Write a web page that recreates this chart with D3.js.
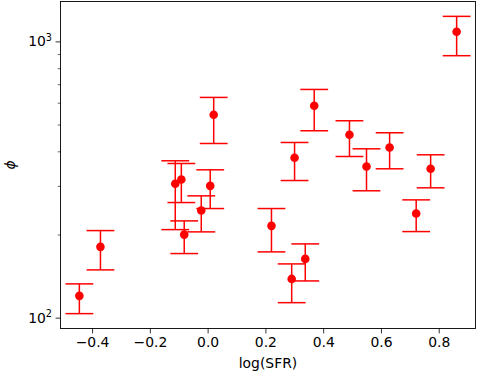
<!DOCTYPE html>
<html><head><meta charset="utf-8">
<script src="https://cdn.jsdelivr.net/npm/d3@7"></script>
<style>body{margin:0;background:#fff}svg{display:block;font-family:"DejaVu Sans",sans-serif}</style>
</head><body><svg id="c" width="478" height="371"></svg>
<script>
const logSFR = [-0.444,-0.371,-0.112,-0.091,-0.081,-0.022,0.009,0.021,0.221,0.291,0.338,0.301,0.369,0.491,0.550,0.630,0.722,0.772,0.862];
const phi    = [119.9,180.4,305.1,316.2,199.8,244.2,300.0,542.6,214.9,138.1,163.2,379.0,584.8,459.2,352.5,413.0,238.2,345.8,1084];
const phiLow = [103.4,148.9,208.3,261.0,170.6,204.4,248.3,427.0,173.0,113.3,135.8,313.6,474.8,383.1,287.9,345.8,204.9,295.1,887.7];
const phiHigh= [132.5,206.6,369.7,361.4,224.0,276.0,342.9,626.9,248.3,156.5,184.9,430.6,670.0,516.1,408.5,466.9,266.9,388.6,1232];
const xTicks = [-0.4,-0.2,0.0,0.2,0.4,0.6,0.8];
const yMajor = [100,1000];
const yMinor = [200,300,400,500,600,700,800,900];

const svg = d3.select("#c");
const L=60.5, R=475.5, T=1.5, B=328.5;
const xmin=d3.min(logSFR), xmax=d3.max(logSFR), xr=xmax-xmin;
const x = d3.scaleLinear().domain([xmin-0.05*xr, xmax+0.05*xr]).range([L,R]);
const lmin=Math.log10(d3.min(phiLow)), lmax=Math.log10(d3.max(phiHigh)), lr=lmax-lmin;
const y = d3.scaleLog().domain([Math.pow(10,lmin-0.05*lr), Math.pow(10,lmax+0.05*lr)]).range([B,T]);

const fmt = d=> (d<0?"\u2212":"")+Math.abs(d).toFixed(1);
const gx = svg.append("g").attr("transform",`translate(0,${B})`)
  .call(d3.axisBottom(x).tickValues(xTicks).tickFormat(fmt).tickSizeOuter(0).tickSize(4.9).tickPadding(3.5));
gx.select(".domain").remove();
gx.selectAll("text").attr("font-size",13.9).attr("font-family","DejaVu Sans").attr("fill","#000");
gx.selectAll("line").attr("stroke","#000").attr("stroke-width",0.8);

const gy = svg.append("g").attr("transform",`translate(${L},0)`)
  .call(d3.axisLeft(y).tickValues(yMajor).tickFormat("").tickSizeOuter(0).tickSize(4.9));
gy.select(".domain").remove();
gy.selectAll("line").attr("stroke","#000").attr("stroke-width",0.8);
const gym = svg.append("g").attr("transform",`translate(${L},0)`)
  .call(d3.axisLeft(y).tickValues(yMinor).tickFormat("").tickSizeOuter(0).tickSize(2.8));
gym.select(".domain").remove();
gym.selectAll("line").attr("stroke","#000").attr("stroke-width",0.6);

yMajor.forEach(v=>{
  const t = svg.append("text").attr("x",L-8.5).attr("y",y(v)+5).attr("text-anchor","end")
    .attr("font-size",13.9).attr("fill","#000");
  t.append("tspan").text("10");
  t.append("tspan").attr("font-size",9.7).attr("dy",-5.5).text(Math.round(Math.log10(v)));
});

// error bars
const g = svg.append("g");
logSFR.forEach((d,i)=>{
  const cx=x(d);
  g.append("line").attr("x1",cx).attr("x2",cx).attr("y1",y(phiLow[i])).attr("y2",y(phiHigh[i]))
    .attr("stroke","red").attr("stroke-width",1.5);
  [phiLow[i],phiHigh[i]].forEach(v=>{
    g.append("line").attr("x1",cx-13.9).attr("x2",cx+13.9).attr("y1",y(v)).attr("y2",y(v))
      .attr("stroke","red").attr("stroke-width",1.5);
  });
});
g.selectAll("circle").data(logSFR).join("circle")
  .attr("cx",d=>x(d)).attr("cy",(d,i)=>y(phi[i])).attr("r",4.3).attr("fill","red");

svg.append("rect").attr("x",L).attr("y",T).attr("width",R-L).attr("height",B-T)
  .attr("fill","none").attr("stroke","#000").attr("stroke-width",0.9);

svg.append("text").attr("x",(L+R)/2).attr("y",368).attr("text-anchor","middle")
  .attr("font-size",13.9).attr("fill","#000").text("log(SFR)");
svg.append("text").attr("transform",`translate(15,${(T+B)/2}) rotate(-90)`).attr("text-anchor","middle")
  .attr("font-size",13.9).attr("font-style","italic").attr("fill","#000").text("ϕ");
</script></body></html>
